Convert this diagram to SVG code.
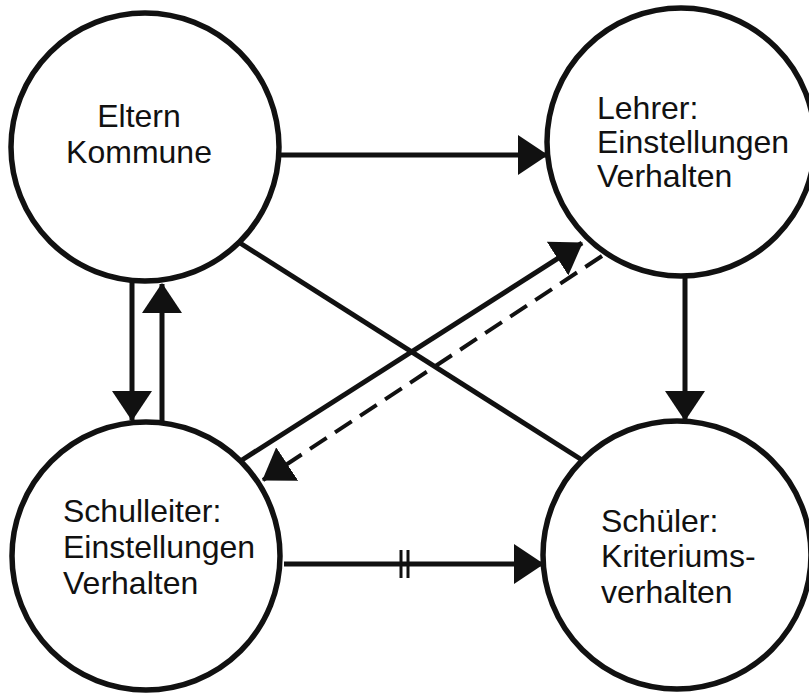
<svg xmlns="http://www.w3.org/2000/svg" width="809" height="697" viewBox="0 0 809 697">
<style>
.node circle{fill:#fff;stroke:#111;stroke-width:5.5}
.node text{font-family:"Liberation Sans",Arial,sans-serif;font-size:32px;fill:#111}
.edge{stroke:#111;stroke-width:5;fill:none}
.dash{stroke-width:4;stroke-dasharray:20 10}
</style>
<defs>
<marker id="ah" viewBox="0 0 30 40" refX="29" refY="20" markerWidth="30" markerHeight="40" markerUnits="userSpaceOnUse" orient="auto">
<path d="M0,0 L30,20 L0,40 z" fill="#111"/>
</marker>
</defs>
<rect width="809" height="697" fill="#fff"/>
<g id="connectors">
<line class="edge" x1="280" y1="155" x2="547" y2="155" marker-end="url(#ah)"/>
<line class="edge" x1="132" y1="282" x2="132" y2="420" marker-end="url(#ah)"/>
<line class="edge" x1="162" y1="422" x2="162" y2="284" marker-end="url(#ah)"/>
<line class="edge" x1="240" y1="243" x2="582" y2="460"/>
<line class="edge" x1="242" y1="460" x2="582" y2="243" marker-end="url(#ah)"/>
<line class="edge dash" x1="602" y1="256" x2="263" y2="480" marker-end="url(#ah)"/>
<line class="edge" x1="685" y1="277" x2="685" y2="420" marker-end="url(#ah)"/>
<line class="edge" x1="284" y1="564" x2="543" y2="564" marker-end="url(#ah)"/>
<line x1="401" y1="550" x2="401" y2="578" stroke="#111" stroke-width="3"/>
<line x1="408" y1="550" x2="408" y2="578" stroke="#111" stroke-width="3"/>
</g>
<g id="eltern" class="node">
<circle cx="145" cy="147" r="134"/>
<text x="139" y="127" text-anchor="middle">Eltern</text>
<text x="139" y="163" text-anchor="middle">Kommune</text>
</g>
<g id="lehrer" class="node">
<circle cx="681" cy="142" r="134"/>
<text x="597" y="119">Lehrer:</text>
<text x="597" y="153">Einstellungen</text>
<text x="597" y="187">Verhalten</text>
</g>
<g id="schulleiter" class="node">
<circle cx="146" cy="556" r="134"/>
<text x="63" y="522">Schulleiter:</text>
<text x="63" y="558">Einstellungen</text>
<text x="63" y="594">Verhalten</text>
</g>
<g id="schueler" class="node">
<circle cx="677" cy="555" r="134"/>
<text x="601" y="532">Schüler:</text>
<text x="601" y="567">Kriteriums-</text>
<text x="601" y="603">verhalten</text>
</g>
</svg>
